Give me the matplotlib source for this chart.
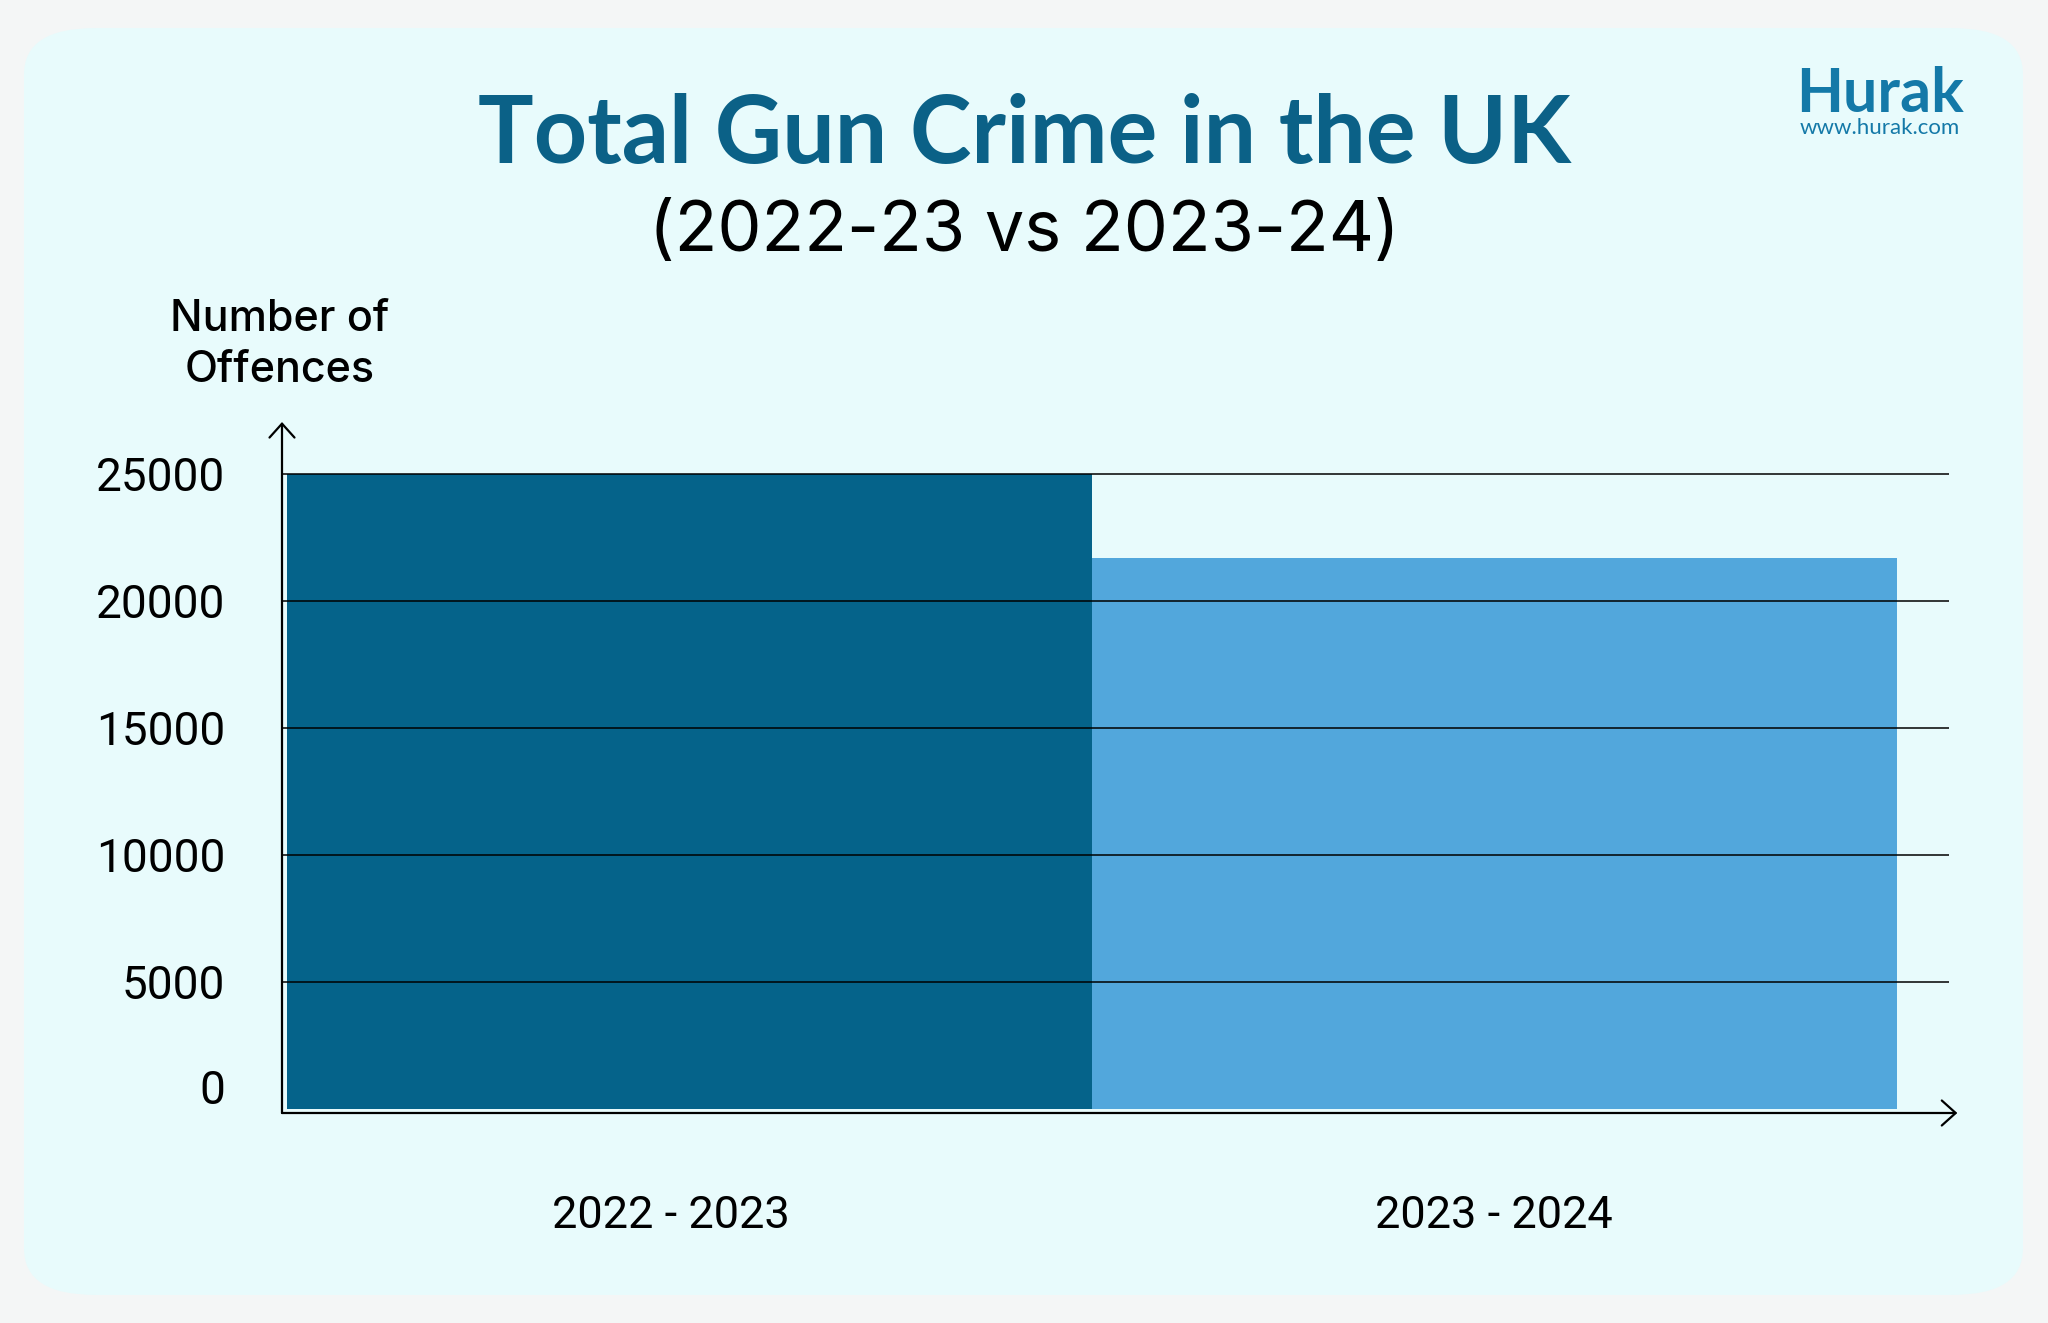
import matplotlib.pyplot as plt
import matplotlib.transforms as mtransforms
from matplotlib.patches import FancyBboxPatch

# data
periods = ["2022 - 2023", "2023 - 2024"]
offences = [25000, 21700]
bar_colors = ["#05638A", "#52A7DC"]
y_ticks = [0, 5000, 10000, 15000, 20000, 25000]

W, H = 2048, 1323
fig = plt.figure(figsize=(W / 100, H / 100), dpi=100)
fig.patch.set_facecolor("#F4F6F6")

# rounded light card behind everything
card = FancyBboxPatch((24 / W, 28 / H), (2023 - 24) / W, (1295 - 28) / H,
                      boxstyle="round,pad=0,rounding_size=0.035",
                      transform=fig.transFigure, facecolor="#E8FBFC",
                      edgecolor="none", zorder=-1)
fig.patches.append(card)

ax = fig.add_axes([282 / W, (H - 1109) / H, (1949 - 282) / W, (1109 - 422) / H])
ax.set_zorder(2)
ax.set_facecolor("none")

x = list(range(len(periods)))
ax.bar(x, offences, width=1.0, color=bar_colors, linewidth=0, zorder=2)

ax.set_xlim(-0.5 - 4 / 616, 1.5 + 40 / 616)
ax.set_ylim(0, 27047)

ax.set_yticks(y_ticks)
ax.set_yticklabels([str(v) for v in y_ticks], fontsize=33, fontfamily="Roboto")
ax.tick_params(axis="y", length=0, pad=41)
ax.set_xticks(x)
ax.set_xticklabels(periods, fontsize=32.5, fontfamily="Roboto")
ax.tick_params(axis="x", length=0, pad=62)

# the reference sets the "0" label a bit higher and the first period a bit left
zero_lab = ax.get_yticklabels()[0]
zero_lab.set_transform(zero_lab.get_transform() +
                       mtransforms.ScaledTranslation(0, 22 / 100, fig.dpi_scale_trans))
first_lab = ax.get_xticklabels()[0]
first_lab.set_transform(first_lab.get_transform() +
                        mtransforms.ScaledTranslation(-19 / 100, 0, fig.dpi_scale_trans))

ax.grid(axis="y", color="black", linewidth=1.1, zorder=3)
ax.set_axisbelow(False)
ax.get_ygridlines()[0].set_visible(False)

for s in ["top", "right", "left", "bottom"]:
    ax.spines[s].set_visible(False)

# axis arrows, the origin sits a few pixels under the bar bottoms
below = ax.transAxes + mtransforms.ScaledTranslation(0, -4 / 100, fig.dpi_scale_trans)
arrow = dict(arrowstyle="->,head_length=1.0,head_width=0.9",
             lw=1.6, color="black", shrinkA=0, shrinkB=0)
ax.annotate("", xy=(0, 1.0), xytext=(0, 0), xycoords="axes fraction",
            textcoords=below, arrowprops=arrow, annotation_clip=False)
ax.annotate("", xy=(1.005, 0), xytext=(0, 0), xycoords=below,
            textcoords=below, arrowprops=arrow, annotation_clip=False)

# titles
fig.text(1024 / W, 1 - 163 / H, "Total Gun Crime in the UK", ha="center",
         va="baseline", fontsize=67, fontweight="bold", color="#0B6187",
         fontfamily="Lato")
fig.text(1024 / W, 1 - 251 / H, "(2022-23 vs 2023-24)", ha="center",
         va="baseline", fontsize=50.5, color="black", fontfamily="Inter")

fig.text(280 / W, 1 - 345 / H, "Number of\nOffences", ha="center", va="center",
         fontsize=31, color="black", fontfamily="Inter", fontweight="medium",
         linespacing=1.3)

# logo
fig.text(1880 / W, 1 - 112 / H, "Hurak", ha="center", va="baseline",
         fontsize=44, color="#1479A8", fontfamily="Lato", fontweight="bold")
fig.text(1880 / W, 1 - 134 / H, "www.hurak.com", ha="center", va="baseline",
         fontsize=16, color="#1479A8", fontfamily="Lato")

fig.savefig("out.png", dpi=100, facecolor=fig.get_facecolor())
